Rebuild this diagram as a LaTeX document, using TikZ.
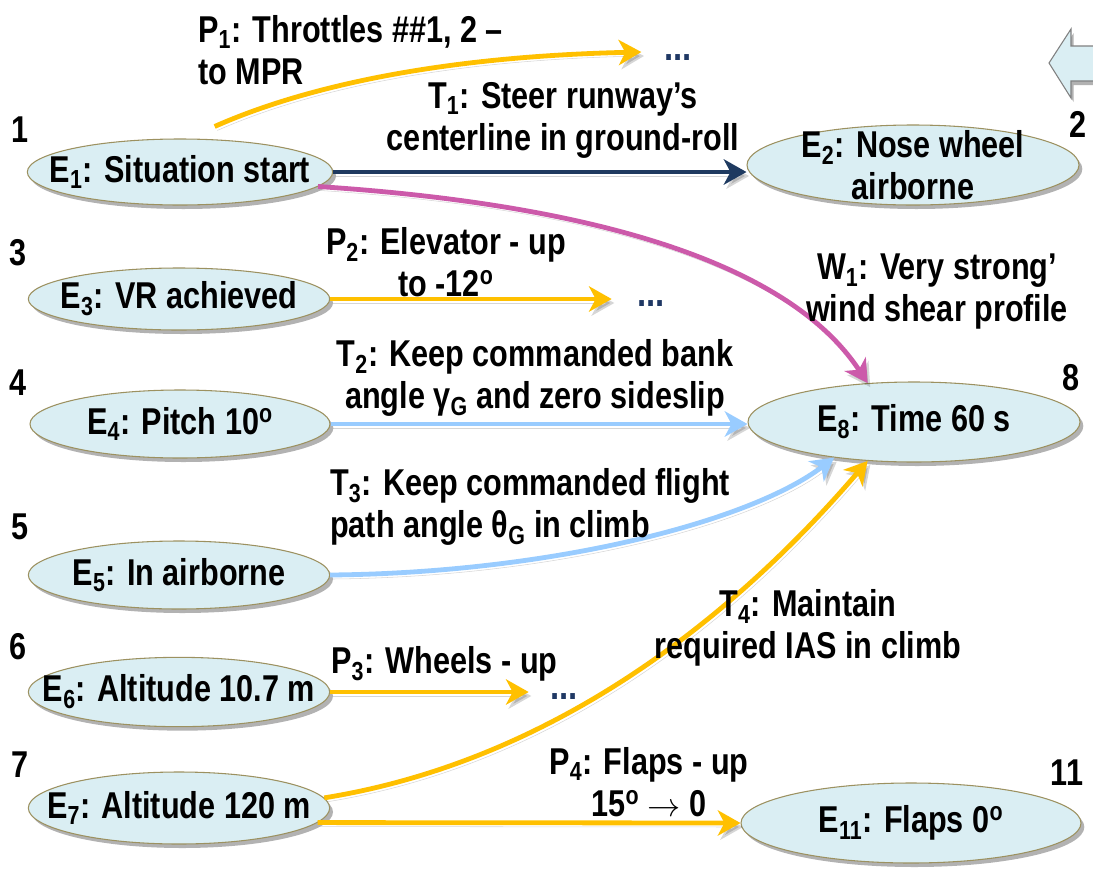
\documentclass[tikz,border=0pt]{standalone}
\usepackage{fontspec}
\setmainfont{Liberation Sans}[FakeStretch=0.82]
\usetikzlibrary{shapes.geometric,arrows.meta,shadows,calc}
\definecolor{efill}{HTML}{DAEEF3}
\definecolor{eline}{HTML}{9C9160}
\definecolor{ylw}{HTML}{FFC000}
\definecolor{navy}{HTML}{1F3A60}
\definecolor{mag}{HTML}{CC5AAA}
\definecolor{sky}{HTML}{99CCFF}
\definecolor{dotc}{HTML}{1F3864}
\newcommand\lfont{\fontsize{28}{31.5}\selectfont\bfseries}
\begin{document}
\begin{tikzpicture}[x=0.75pt,y=-0.75pt,
  evt/.style={ellipse, draw=eline, line width=0.8pt, fill=efill, inner sep=0pt,
    drop shadow={shadow xshift=2.5pt, shadow yshift=-3pt, opacity=0.3, fill=black},
    label={[lbl]center:#1}},
  lbl/.style={align=center, inner sep=0pt, font=\lfont},
  num/.style={inner sep=0pt, font=\lfont},
  more/.style={inner sep=0pt, text=dotc, text height=4pt, text depth=0pt,
    font=\fontsize{30}{30}\selectfont\bfseries},
  conn/.style={line width=3.6pt,
    -{Stealth[length=17pt, width=19pt, inset=5pt]},
    preaction={draw=black, opacity=0.16, transform canvas={shift={(2pt,-3pt)}}}},
]
\useasboundingbox (0,0) rectangle (1093,868);

% back arrow in the corner
\path[fill=efill, draw=black!50, line width=0.8pt,
  drop shadow={shadow xshift=2pt, shadow yshift=-3pt, opacity=0.3, fill=black}]
  (1049,63) -- (1071,29) -- (1071,46) -- (1100,46) -- (1100,81)
  -- (1071,81) -- (1071,98) -- cycle;

% events
\node[evt={E\textsubscript{1}: Situation start}, minimum width=229pt, minimum height=49.5pt] (E1) at (180,172) {};
\node[evt={E\textsubscript{2}: Nose wheel\\airborne}, minimum width=249pt, minimum height=60pt] (E2) at (913,165) {};
\node[evt={E\textsubscript{3}: VR achieved}, minimum width=226pt, minimum height=46.5pt] (E3) at (179,299) {};
\node[evt={E\textsubscript{4}: Pitch 10\textsuperscript{o}}, minimum width=225pt, minimum height=51pt] (E4) at (180,424) {};
\node[evt={E\textsubscript{8}: Time 60 s}, minimum width=249pt, minimum height=60pt] (E8) at (914,422) {};
\node[evt={E\textsubscript{5}: In airborne}, minimum width=226pt, minimum height=51pt] (E5) at (179,575) {};
\node[evt={E\textsubscript{6}: Altitude 10.7 m}, minimum width=226pt, minimum height=52pt] (E6) at (179,692) {};
\node[evt={E\textsubscript{7}: Altitude 120 m}, minimum width=226pt, minimum height=54pt] (E7) at (179,808) {};
\node[evt={E\textsubscript{11}: Flaps 0\textsuperscript{o}}, minimum width=255pt, minimum height=60pt] (E11) at (911,823) {};

% event numbers
\node[num] (n1) at (20,130) {1};
\node[num] (n2) at (1078,124) {2};
\node[num] (n3) at (18,253) {3};
\node[num] (n4) at (18,383) {4};
\node[num] (n8) at (1071,378) {8};
\node[num] (n5) at (20,527) {5};
\node[num] (n6) at (18,647) {6};
\node[num] (n7) at (20,765) {7};
\node[num] (n11) at (1067,773) {11};

% continuation marks
\node[more, anchor=base west] (m1) at (664,60) {...};
\node[more, anchor=base west] (m2) at (637,306) {...};
\node[more, anchor=base west] (m3) at (550,699) {...};

% actions and processes
\draw[conn, ylw] ([xshift=26pt,yshift=9pt]E1.north)
  .. controls (290,93) and (420,57) .. ([xshift=-17pt]m1.west |- 0,52);
\draw[conn, navy] (E1.east) -- (E1.east -| E2.west);
\draw[conn, mag] (E1.-6) .. controls (600,205) and (790,265) .. (E8.140);
\draw[conn, ylw] (E3.east) -- ([xshift=-19pt]m2.west |- E3.east);
\draw[conn, sky] (E4.east) -- (E4.east -| E8.west);
\draw[conn, sky] (E5.east) .. controls (550,573) and (750,522) .. (E8.-156);
\draw[conn, ylw] (E6.east) -- ([xshift=-16pt]m3.west |- E6.east);
\draw[conn, ylw] (E7.4) .. controls (560,760) and (740,610) .. (E8.-140);
\draw[conn, ylw] (E7.-6) -- (E11.west);

% labels
\node[lbl, align=left, anchor=west] (lP1) at (198,50) {P\textsubscript{1}: Throttles \#\#1, 2 –\\to MPR};
\node[lbl] (lT1) at (563,120) {T\textsubscript{1}: Steer runway’s\\centerline in ground-roll};
\node[lbl] (lW1) at (937,292) {W\textsubscript{1}: Very strong’\\wind shear profile};
\node[lbl] (lP2) at (446,262) {P\textsubscript{2}: Elevator - up\\to -12\textsuperscript{o}};
\node[lbl] (lT2) at (535,378) {T\textsubscript{2}: Keep commanded bank\\angle γ\textsubscript{G} and zero sideslip};
\node[lbl, align=left, anchor=west] (lT3) at (330,507) {T\textsubscript{3}: Keep commanded flight\\path angle θ\textsubscript{G} in climb};
\node[lbl, anchor=west] (lP3) at (331,664) {P\textsubscript{3}: Wheels - up};
\node[lbl] (lT4) at (808,628) {T\textsubscript{4}: Maintain\\required IAS in climb};
\node[lbl] (lP4) at (649,782) {P\textsubscript{4}: Flaps - up\\15\textsuperscript{o} $\rightarrow$ 0};
\end{tikzpicture}
\end{document}
